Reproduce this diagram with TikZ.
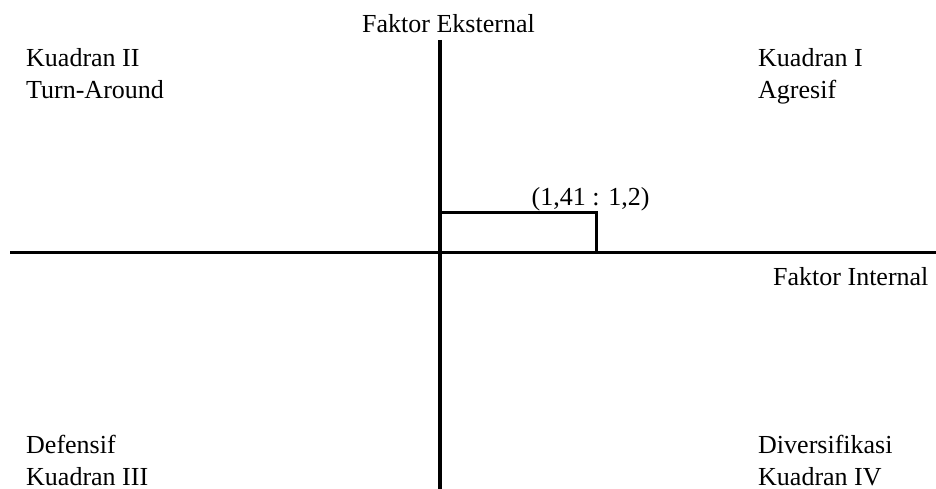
\documentclass[tikz,border=0pt]{standalone}
\usepackage{fontspec}
\setmainfont{Liberation Serif}
\begin{document}
\begin{tikzpicture}[x=1pt,y=-1pt,
  lbl/.style={anchor=base west,inner sep=0pt,font=\fontsize{26}{31}\selectfont},
  axis/.style={line width=3.8pt},
  pt/.style={line width=3pt}]
\useasboundingbox (0,0) rectangle (936,489);
\coordinate (top) at (440,40);
\coordinate (bot) at (440,489);
\coordinate (left) at (10,252.5);
\coordinate (right) at (936,252.5);
\coordinate (p0) at (440,212);
\coordinate (p1) at (596,212);
\coordinate (p2) at (596,252.5);
\draw[axis] (left) -- (right);
\draw[axis] (top) -- (bot);
\draw[pt] (p0) -- (p1) -- (p2);
\node[lbl] (fe) at (362,32.7) {Faktor Eksternal};
\node[lbl] (fi) at (773,285) {Faktor Internal};
\node[lbl] (k2) at (26,66.7) {Kuadran II};
\node[lbl] (ta) at (26,98.3) {Turn-Around};
\node[lbl] (k1) at (758,66.7) {Kuadran I};
\node[lbl] (ag) at (758,98.3) {Agresif};
\node[lbl] (pt) at (531.5,205) {(1,41 : 1,2)};
\node[lbl] (df) at (26,453) {Defensif};
\node[lbl] (k3) at (26,485) {Kuadran III};
\node[lbl] (dv) at (758,453) {Diversifikasi};
\node[lbl] (k4) at (758,485) {Kuadran IV};
\end{tikzpicture}
\end{document}
